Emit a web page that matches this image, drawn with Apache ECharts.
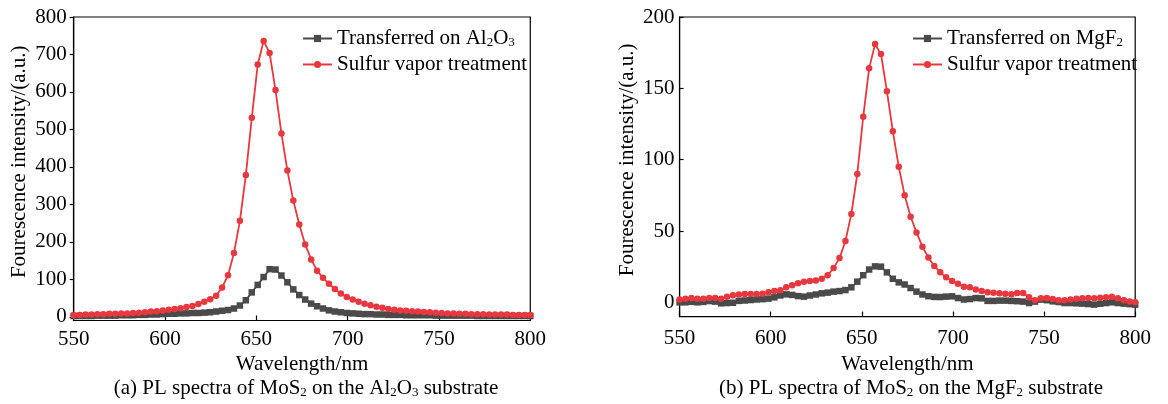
<!DOCTYPE html>
<html>
<head>
<meta charset="utf-8">
<script src="https://cdn.jsdelivr.net/npm/echarts@6/dist/echarts.min.js"></script>
<style>
html,body{margin:0;padding:0;background:#fff;}
#chart{width:1168px;height:404px;}
</style>
</head>
<body>
<div id="chart"></div>
<script>
// Wavelength grid (nm)
var wavelengths = [
  550, 553.25, 556.5, 559.75, 563, 566.25, 569.5, 572.75, 576, 579.25,
  582.5, 585.75, 589, 592.25, 595.5, 598.75, 602, 605.25, 608.5, 611.75,
  615, 618.25, 621.5, 624.75, 628, 631.25, 634.5, 637.75, 641, 644.25,
  647.5, 650.75, 654, 657.25, 660.5, 663.75, 667, 670.25, 673.5, 676.75,
  680, 683.25, 686.5, 689.75, 693, 696.25, 699.5, 702.75, 706, 709.25,
  712.5, 715.75, 719, 722.25, 725.5, 728.75, 732, 735.25, 738.5, 741.75,
  745, 748.25, 751.5, 754.75, 758, 761.25, 764.5, 767.75, 771, 774.25,
  777.5, 780.75, 784, 787.25, 790.5, 793.75, 797, 800
];
// (a) Al2O3 substrate
var al2o3Transferred = [
  2, 2, 2, 2, 3, 3, 3, 3, 4, 4,
  4, 5, 5, 6, 6, 7, 8, 8, 9, 9,
  10, 10, 11, 12, 14, 16, 18, 22, 30, 44,
  65, 85, 106, 127, 126, 110, 92, 73, 58, 46,
  35, 28, 22, 17, 14, 12, 10, 9, 8, 7,
  7, 6, 6, 5, 5, 5, 4, 4, 4, 4,
  4, 3, 3, 3, 3, 3, 3, 3, 2, 2,
  2, 2, 2, 2, 2, 2, 2, 2
];
var al2o3Sulfur = [
  5, 5, 6, 6, 7, 7, 8, 8, 9, 9,
  10, 11, 12, 14, 15, 17, 19, 21, 23, 26,
  29, 34, 40, 47, 56, 78, 111, 170, 256, 378,
  531, 673, 736, 704, 605, 489, 390, 310, 246, 193,
  153, 123, 104, 88, 74, 62, 53, 46, 40, 35,
  31, 27, 24, 21, 19, 17, 16, 15, 14, 13,
  12, 11, 10, 9, 9, 8, 8, 7, 7, 7,
  6, 6, 6, 6, 5, 5, 5, 5
];
// (b) MgF2 substrate
var mgf2Transferred = [
  0, 0, 0.4, 0, 0.3, 0.9, 0.5, -0.7, -0.5, -0.3,
  1, 1.3, 1.6, 2, 2.2, 2.6, 3.5, 4.8, 5.6, 5.2,
  4.4, 4, 4.8, 5.5, 6.3, 6.8, 7.5, 7.9, 8.6, 10.5,
  14.5, 19, 23, 25.2, 25, 21, 16.5, 14, 12.5, 10,
  7.5, 5.5, 4.3, 3.8, 3.7, 4, 4.2, 3, 2, 2.3,
  3, 2.8, 1, 1, 1.2, 1.2, 1, 0.8, 0.5, -0.5,
  0.5, 1.9, 1.5, 0.7, 0.2, -0.5, -0.5, -0.7, -0.9, -1.2,
  -1.6, -1, -0.5, 0, -0.5, -0.9, -1.3, -1.6
];
var mgf2Sulfur = [
  2, 2.5, 3, 2.5, 2.5, 3, 3, 2.5, 4, 5,
  5.5, 5.8, 5.8, 5.8, 6, 7, 8, 8.5, 10.5, 12,
  13.3, 14.5, 15, 15.3, 16.5, 19, 24, 31, 43, 62,
  90, 130, 164, 181, 174, 148, 120, 95, 75, 60,
  49, 39, 31.5, 25.5, 21, 17.5, 15, 13, 11, 10.5,
  9, 8, 7, 6.8, 6.3, 6, 5.6, 6.5, 6.5, 3.5,
  1.5, 2.8, 3, 2.3, 1.5, 1.5, 2, 2.5, 2.8, 3,
  2.8, 3.3, 3.5, 4, 2.8, 1.5, 0.5, 0
];
var seriesNames = ['Transferred on Al2O3', 'Sulfur vapor treatment', 'Transferred on MgF2'];
var legendRich = {
  'Transferred on Al2O3': '{n|Transferred on Al}{s|2}{n|O}{s|3}',
  'Transferred on MgF2': '{n|Transferred on MgF}{s|2}',
  'Sulfur vapor treatment': '{n|Sulfur vapor treatment}'
};
var captions = [
  '{n|(a) PL spectra of MoS}{s|2}{n| on the Al}{s|2}{n|O}{s|3}{n| substrate}',
  '{n|(b) PL spectra of MoS}{s|2}{n| on the MgF}{s|2}{n| substrate}'
];
var xName = 'Wavelength/nm';
var yName = 'Fourescence intensity/(a.u.)';

var FONT = '"Liberation Serif", "Times New Roman", serif';
var GRAY = '#4a4a4a';
var RED = '#e8383f';

function pairs(vals) {
  return wavelengths.map(function (x, i) { return [x, vals[i]]; });
}
var subRich = {
  n: { fontSize: 21, fontFamily: FONT, color: '#000', verticalAlign: 'top', lineHeight: 21 },
  s: { fontSize: 13, fontFamily: FONT, color: '#000', verticalAlign: 'bottom', lineHeight: 13, padding: [12, 0, 0, 0] }
};

function xAxisCfg(gi, margin, gap) {
  return {
    type: 'value', gridIndex: gi, min: 550, max: 800, interval: 50,
    name: xName, nameLocation: 'middle', nameGap: gap,
    nameTextStyle: { fontFamily: FONT, fontSize: 21, color: '#000' },
    axisLine: { show: true, onZero: false, lineStyle: { color: '#000', width: 1.2 } },
    axisTick: { show: true, inside: true, length: 5, lineStyle: { color: '#000', width: 1.2 } },
    axisLabel: { fontFamily: FONT, fontSize: 21, color: '#000', margin: margin },
    splitLine: { show: false }
  };
}
function yAxisCfg(gi, max, split, inside, margin, gap) {
  return {
    type: 'value', gridIndex: gi, min: -10, max: max, splitNumber: split,
    name: yName, nameLocation: 'middle', nameGap: gap,
    nameTextStyle: { fontFamily: FONT, fontSize: 21, color: '#000', padding: [0, 0, 0, 14] },
    axisLine: { show: true, onZero: false, lineStyle: { color: '#000', width: 1.2 } },
    axisTick: { show: true, inside: inside, length: 4, lineStyle: { color: '#000', width: 1.2 } },
    axisLabel: { fontFamily: FONT, fontSize: 21, color: '#000', margin: margin, showMinLabel: false },
    splitLine: { show: false }
  };
}
function lineSeries(name, gi, vals, color, symbol) {
  return {
    name: name, type: 'line', xAxisIndex: gi, yAxisIndex: gi,
    data: pairs(vals), symbol: symbol, symbolSize: 6.5,
    lineStyle: { color: color, width: 1.8 },
    itemStyle: { color: color },
    animation: false, z: symbol === 'circle' ? 3 : 2
  };
}
function legendCfg(left, names) {
  return {
    orient: 'vertical', left: left, top: 19, itemGap: 5,
    itemWidth: 29, itemHeight: 9,
    data: names,
    formatter: function (n) { return legendRich[n]; },
    textStyle: { fontFamily: FONT, fontSize: 21, color: '#000', rich: subRich }
  };
}

var chart = echarts.init(document.getElementById('chart'), null, { renderer: 'canvas' });
chart.setOption({
  backgroundColor: '#fff',
  animation: false,
  title: [
    { text: captions[0], left: 301, top: 373, textAlign: 'center',
      textStyle: { fontFamily: FONT, fontSize: 21, fontWeight: 'normal', color: '#000', rich: subRich } },
    { text: captions[1], left: 906, top: 373, textAlign: 'center',
      textStyle: { fontFamily: FONT, fontSize: 21, fontWeight: 'normal', color: '#000', rich: subRich } }
  ],
  grid: [
    { left: 73.7, top: 17, width: 456.6, height: 303.5, show: true, borderColor: '#000', borderWidth: 1.2, containLabel: false },
    { left: 679.6, top: 17, width: 455.6, height: 299.6, show: true, borderColor: '#000', borderWidth: 1.2, containLabel: false }
  ],
  xAxis: [xAxisCfg(0, 8, 23), xAxisCfg(1, 11, 26)],
  yAxis: [yAxisCfg(0, 800, 8, false, 7, 44), yAxisCfg(1, 200, 4, true, 5, 42)],
  legend: [
    legendCfg(297, [seriesNames[0], seriesNames[1]]),
    legendCfg(907, [seriesNames[2], seriesNames[1]])
  ],
  series: [
    lineSeries(seriesNames[0], 0, al2o3Transferred, GRAY, 'rect'),
    lineSeries(seriesNames[1], 0, al2o3Sulfur, RED, 'circle'),
    lineSeries(seriesNames[2], 1, mgf2Transferred, GRAY, 'rect'),
    lineSeries(seriesNames[1], 1, mgf2Sulfur, RED, 'circle')
  ]
});
</script>
</body>
</html>
